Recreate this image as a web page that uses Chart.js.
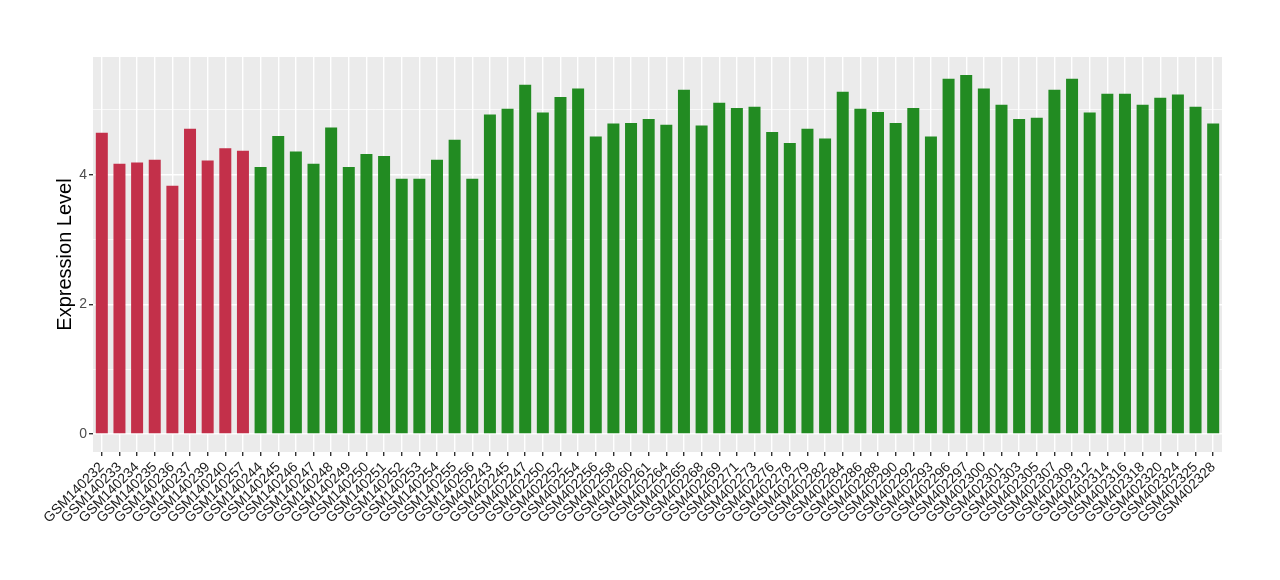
<!DOCTYPE html>
<html>
<head>
<meta charset="utf-8">
<script src="https://cdn.jsdelivr.net/npm/chart.js@4/dist/chart.umd.min.js"></script>
<style>
  html, body { margin: 0; padding: 0; background: #fff; }
</style>
</head>
<body>
<canvas id="exprChart" width="1280" height="580"></canvas>
<script>
var samples = [
    'GSM140232', 'GSM140233', 'GSM140234', 'GSM140235', 'GSM140236', 'GSM140237', 'GSM140239', 'GSM140240',
    'GSM140257', 'GSM140244', 'GSM140245', 'GSM140246', 'GSM140247', 'GSM140248', 'GSM140249', 'GSM140250',
    'GSM140251', 'GSM140252', 'GSM140253', 'GSM140254', 'GSM140255', 'GSM140256', 'GSM402243', 'GSM402245',
    'GSM402247', 'GSM402250', 'GSM402252', 'GSM402254', 'GSM402256', 'GSM402258', 'GSM402260', 'GSM402261',
    'GSM402264', 'GSM402265', 'GSM402268', 'GSM402269', 'GSM402271', 'GSM402273', 'GSM402276', 'GSM402278',
    'GSM402279', 'GSM402282', 'GSM402284', 'GSM402286', 'GSM402288', 'GSM402290', 'GSM402292', 'GSM402293',
    'GSM402296', 'GSM402297', 'GSM402300', 'GSM402301', 'GSM402303', 'GSM402305', 'GSM402307', 'GSM402309',
    'GSM402312', 'GSM402314', 'GSM402316', 'GSM402318', 'GSM402320', 'GSM402324', 'GSM402325', 'GSM402328'
];
var expression = [
    4.65, 4.17, 4.19, 4.23, 3.83, 4.71, 4.22, 4.41,
    4.37, 4.12, 4.60, 4.36, 4.17, 4.73, 4.12, 4.32,
    4.29, 3.94, 3.94, 4.23, 4.54, 3.94, 4.93, 5.02,
    5.39, 4.96, 5.20, 5.33, 4.59, 4.79, 4.80, 4.86,
    4.77, 5.31, 4.76, 5.11, 5.03, 5.05, 4.66, 4.49,
    4.71, 4.56, 5.28, 5.02, 4.97, 4.80, 5.03, 4.59,
    5.48, 5.54, 5.33, 5.08, 4.86, 4.88, 5.31, 5.48,
    4.96, 5.25, 5.25, 5.08, 5.19, 5.24, 5.05, 4.79
];
// first group (red) vs second group (green)
var firstGroupCount = 9;
var yTicks = [0, 1, 2, 3, 4, 5];
var yMin = -0.277, yMax = 5.817;

var font = 'Liberation Sans, Arial, Helvetica, sans-serif';

var barColors = samples.map(function(s, i) {
    return i < firstGroupCount ? '#C3304A' : '#228B22';
});

// grey panel like ggplot
var panelBg = {
    id: 'panelBg',
    beforeDraw: function(chart) {
        var a = chart.chartArea;
        var c = chart.ctx;
        c.save();
        c.fillStyle = '#EBEBEB';
        c.fillRect(a.left, a.top, a.right - a.left, a.bottom - a.top);
        c.restore();
    }
};

var ctx = document.getElementById('exprChart').getContext('2d');
var exprChart = new Chart(ctx, {
    type: 'bar',
    data: {
        labels: samples,
        datasets: [{
            data: expression,
            backgroundColor: barColors,
            barPercentage: 0.68,
            categoryPercentage: 1.0
        }]
    },
    options: {
        responsive: false,
        animation: false,
        devicePixelRatio: 1,
        layout: { padding: { top: 57, right: 58, bottom: 0, left: 0 } },
        plugins: {
            legend: { display: false },
            tooltip: { enabled: false }
        },
        scales: {
            x: {
                offset: true,
                grid: {
                    offset: false,
                    color: '#FFFFFF',
                    lineWidth: 1.4,
                    tickColor: '#333333',
                    tickLength: 4
                },
                border: { display: false },
                ticks: {
                    autoSkip: false,
                    maxRotation: 45,
                    minRotation: 45,
                    padding: 3,
                    color: '#1A1A1A',
                    font: { family: font, size: 14 }
                },
                afterFit: function(scale) { scale.height = 128; }
            },
            y: {
                min: yMin,
                max: yMax,
                afterBuildTicks: function(scale) {
                    scale.ticks = yTicks.map(function(v) { return { value: v }; });
                },
                grid: {
                    color: '#FFFFFF',
                    lineWidth: function(c) { return c.tick && c.tick.value % 2 === 0 ? 1.4 : 0.7; },
                    tickColor: function(c) { return c.tick && c.tick.value % 2 === 0 ? '#333333' : 'rgba(0,0,0,0)'; },
                    tickLength: 4
                },
                border: { display: false },
                ticks: {
                    padding: 2,
                    color: '#4D4D4D',
                    font: { family: font, size: 14 },
                    callback: function(v) { return v % 2 === 0 ? v : ''; }
                },
                title: {
                    display: true,
                    text: 'Expression Level',
                    color: '#000000',
                    font: { family: font, size: 20 },
                    padding: { top: 53, bottom: 0 }
                },
                afterFit: function(scale) { scale.width = 93; }
            }
        }
    },
    plugins: [panelBg]
});
</script>
</body>
</html>
